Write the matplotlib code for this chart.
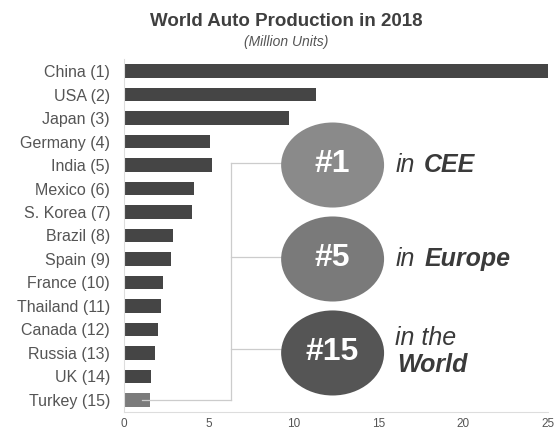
import matplotlib
matplotlib.use('Agg')
import matplotlib.pyplot as plt
from matplotlib.patches import Ellipse

plt.rcParams['font.family'] = ['Liberation Sans', 'DejaVu Sans']

# data
countries = ['China (1)', 'USA (2)', 'Japan (3)', 'Germany (4)', 'India (5)', 'Mexico (6)',
             'S. Korea (7)', 'Brazil (8)', 'Spain (9)', 'France (10)', 'Thailand (11)',
             'Canada (12)', 'Russia (13)', 'UK (14)', 'Turkey (15)']
production = [27.8, 11.3, 9.7, 5.1, 5.2, 4.1, 4.0, 2.9, 2.8, 2.3, 2.2, 2.0, 1.8, 1.6, 1.55]
xticks = [0, 5, 10, 15, 20, 25]

badges = ['#1', '#5', '#15']
badge_rows = [4.0, 8.0, 12.0]
badge_colors = ['#8a8a8a', '#7a7a7a', '#555555']

fig = plt.figure(figsize=(5.56, 4.30), dpi=100)
ax = fig.add_axes([124/556, 1-411.7/430, 424/556, 352.4/430])

ypos = list(range(len(countries)))
colors = ['#454545'] * (len(countries) - 1) + ['#7b7b7b']
ax.barh(ypos, production, height=0.56, color=colors)
ax.set_yticks(ypos)
ax.set_yticklabels(countries, fontsize=11.5, color='#555555')
ax.set_xticks(xticks)
ax.set_xticklabels([str(t) for t in xticks], fontsize=8.5, color='#555555')
ax.set_xlim(0, 25)
ax.set_ylim(14.5, -0.5)
ax.tick_params(axis='y', length=0, pad=10)
ax.tick_params(axis='x', length=0, pad=4.5)
for s in ['top', 'right']:
    ax.spines[s].set_visible(False)
for s in ['left', 'bottom']:
    ax.spines[s].set_color('#dddddd')
    ax.spines[s].set_linewidth(0.8)

# bracket connecting Turkey to the badges
lc = '#cccccc'
bx = 6.3
ax.plot([1.06, bx], [14, 14], color=lc, lw=0.9, clip_on=False)
ax.plot([bx, bx], [3.9, 14], color=lc, lw=0.9, clip_on=False)
for r in [3.9, 7.9, 11.85]:
    ax.plot([bx, 9.5], [r, r], color=lc, lw=0.9, clip_on=False, zorder=1)

for b, r, c in zip(badges, badge_rows, badge_colors):
    ax.add_patch(Ellipse((12.3, r), 6.07, 3.62, facecolor=c, edgecolor='none', zorder=3, clip_on=False))
    ax.text(12.3, r - 0.05, b, ha='center', va='center', color='white', fontsize=23,
            fontweight='bold', zorder=4)

tc = '#3a3a3a'
fs = 18
ax.text(16.0, 4.0, 'in', fontsize=fs, style='italic', color=tc, va='center')
ax.text(17.7, 4.0, 'CEE', fontsize=fs, style='italic', fontweight='bold', color=tc, va='center')
ax.text(16.0, 8.0, 'in', fontsize=fs, style='italic', color=tc, va='center')
ax.text(17.7, 8.0, 'Europe', fontsize=fs, style='italic', fontweight='bold', color=tc, va='center')
ax.text(16.0, 11.35, 'in the', fontsize=fs, style='italic', color=tc, va='center')
ax.text(16.1, 12.5, 'World', fontsize=fs, style='italic', fontweight='bold', color=tc, va='center')

fig.text(286/556, 1-22/430, 'World Auto Production in 2018', ha='center', va='center',
         fontsize=13.5, fontweight='bold', color='#3f3f3f')
fig.text(286/556, 1-42/430, '(Million Units)', ha='center', va='center',
         fontsize=10, style='italic', color='#555555')

fig.savefig('out.png', dpi=100)
